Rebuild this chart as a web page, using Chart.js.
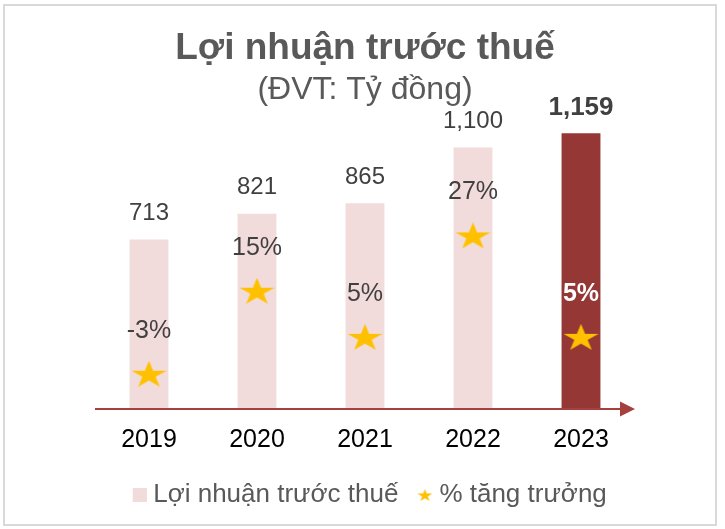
<!DOCTYPE html>
<html>
<head>
<meta charset="utf-8">
<script src="https://cdn.jsdelivr.net/npm/chart.js@4.4.1/dist/chart.umd.min.js"></script>
<style>
  html, body { margin: 0; padding: 0; background: #fff; }
  #wrap { width: 725px; height: 529px; position: relative; }
</style>
</head>
<body>
<div id="wrap"><canvas id="chart"></canvas></div>
<script>
// ── Data ───────────────────────────────────────────────────────
const years = ['2019', '2020', '2021', '2022', '2023'];
const profit = [713, 821, 865, 1100, 1159];     // Tỷ đồng
const growth = [-3, 15, 5, 27, 5];              // %

const PINK = '#F2DCDB';
const DARK_RED = '#953735';
const GOLD = '#FFC000';

// ── Star marker (drawn once on an offscreen canvas) ────────────
// pad = transparent space on the left, used to space legend icons
function makeStar(w, h, pad = 0) {
  const c = document.createElement('canvas');
  c.width = w + pad; c.height = h;
  const g = c.getContext('2d');
  const sx = w / 1.902, sy = h / 1.809;
  g.translate(pad + w / 2, 1 * sy);
  g.beginPath();
  for (let i = 0; i < 10; i++) {
    const r = i % 2 === 0 ? 1 : 0.382;
    const a = -Math.PI / 2 + i * Math.PI / 5;
    const px = Math.cos(a) * r * sx, py = Math.sin(a) * r * sy;
    i === 0 ? g.moveTo(px, py) : g.lineTo(px, py);
  }
  g.closePath();
  g.fillStyle = GOLD;
  g.fill();
  return c;
}

function makeSquare(size, color, pad = 0) {
  const c = document.createElement('canvas');
  c.width = size + pad; c.height = size;
  const g = c.getContext('2d');
  g.fillStyle = color;
  g.fillRect(pad, 0, size, size);
  return c;
}

const bigStar = makeStar(35, 26);
const legendStar = makeStar(15, 12, 14);
const legendSquare = makeSquare(14, PINK, 16);

// ── Plugins ────────────────────────────────────────────────────
const frame = {
  id: 'frame',
  beforeDraw(chart) {
    const g = chart.ctx;
    g.save();
    g.strokeStyle = '#D9D9D9';
    g.lineWidth = 2;
    g.strokeRect(4, 5, 712, 520);
    g.restore();
  }
};

const arrowAxis = {
  id: 'arrowAxis',
  afterDatasetsDraw(chart) {
    const { ctx: g, chartArea: a } = chart;
    const y = a.bottom;
    g.save();
    g.strokeStyle = '#A4403E';
    g.fillStyle = '#A4403E';
    g.lineWidth = 2;
    g.beginPath();
    g.moveTo(a.left, y);
    g.lineTo(a.right - 14, y);
    g.stroke();
    g.beginPath();
    g.moveTo(a.right - 15, y - 7.5);
    g.lineTo(a.right, y);
    g.lineTo(a.right - 15, y + 7.5);
    g.closePath();
    g.fill();
    g.restore();
  }
};

const valueLabels = {
  id: 'valueLabels',
  afterDatasetsDraw(chart) {
    const g = chart.ctx;
    const bars = chart.getDatasetMeta(0).data;
    const stars = chart.getDatasetMeta(1).data;
    const last = years.length - 1;
    g.save();
    g.textAlign = 'center';
    g.textBaseline = 'middle';
    bars.forEach((bar, i) => {
      g.font = i === last ? "bold 26px 'Liberation Sans', Arial" : "24px 'Liberation Sans', Arial";
      g.fillStyle = '#404040';
      g.fillText(profit[i].toLocaleString('en-US'), bar.x, bar.y - 26);
    });
    stars.forEach((pt, i) => {
      g.font = i === last ? "bold 25px 'Liberation Sans', Arial" : "25px 'Liberation Sans', Arial";
      g.fillStyle = i === last ? '#FFFFFF' : '#404040';
      g.fillText(growth[i] + '%', pt.x, pt.y - 43);
    });
    g.restore();
  }
};

// ── Chart ──────────────────────────────────────────────────────
Chart.defaults.font.family = "'Liberation Sans', Arial, sans-serif";

new Chart(document.getElementById('chart'), {
  type: 'bar',
  data: {
    labels: years,
    datasets: [
      {
        label: 'Lợi nhuận trước thuế',
        data: profit,
        backgroundColor: years.map((_, i) => i === years.length - 1 ? DARK_RED : PINK),
        barPercentage: 0.36,
        categoryPercentage: 1,
        yAxisID: 'y',
        order: 2,
      },
      {
        type: 'line',
        label: '% tăng trưởng',
        data: growth,
        showLine: false,
        pointStyle: bigStar,
        pointRadius: 14,
        yAxisID: 'y2',
        order: 1,
      }
    ]
  },
  options: {
    responsive: true,
    maintainAspectRatio: false,
    animation: false,
    layout: { padding: { left: 95, right: 90, top: 0, bottom: 11 } },
    plugins: {
      tooltip: { enabled: false },
      title: {
        display: true,
        text: 'Lợi nhuận trước thuế',
        color: '#595959',
        font: { size: 37, weight: 'bold' },
        padding: { top: 27, bottom: 0 },
      },
      subtitle: {
        display: true,
        text: '(ĐVT: Tỷ đồng)',
        color: '#595959',
        font: { size: 32 },
        padding: { top: 0, bottom: 0 },
      },
      legend: {
        position: 'bottom',
        labels: {
          usePointStyle: true,
          pointStyleWidth: 17,
          color: '#595959',
          font: { size: 26 },
          padding: 11,
          generateLabels: chart => chart.data.datasets.map((ds, i) => ({
            text: ds.label,
            pointStyle: i === 0 ? legendSquare : legendStar,
            fillStyle: i === 0 ? PINK : GOLD,
            strokeStyle: 'rgba(0,0,0,0)',
            lineWidth: 0,
            hidden: false,
            datasetIndex: i,
            fontColor: '#595959',
          })),
        }
      }
    },
    scales: {
      x: {
        grid: { display: false, drawTicks: false },
        border: { display: false },
        ticks: { color: '#000000', font: { size: 25 }, padding: 16 },
      },
      y: {
        display: false,
        min: 0,
        max: 1258,
      },
      y2: {
        display: false,
        min: -10.65,
        max: 54.24,
      }
    }
  },
  plugins: [frame, arrowAxis, valueLabels]
});
</script>
</body>
</html>
